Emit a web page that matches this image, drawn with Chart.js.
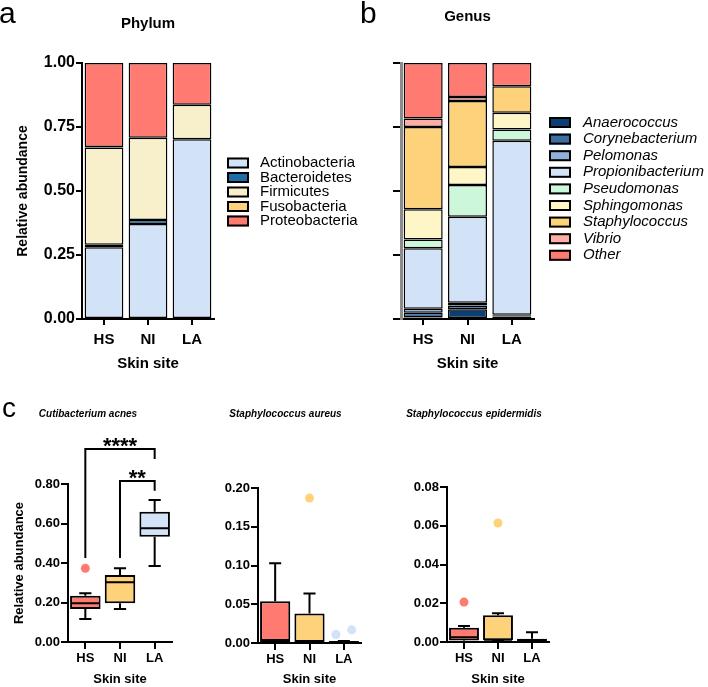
<!DOCTYPE html>
<html lang="en">
<head>
<meta charset="UTF-8">
<title>Skin site relative abundance</title>
<script src="https://cdn.jsdelivr.net/npm/chart.js"></script>
<style>
  body { margin: 0; background: #fff; }
  #figure { position: relative; width: 708px; height: 687px; overflow: hidden; font-family: 'Liberation Sans', Arial, sans-serif; }
  #figure canvas { position: absolute; }
  .panel-letter { position: absolute; font-size: 30px; line-height: 1; color: #000; }
</style>
</head>
<body>
<div id="figure">
  <canvas id="phylumChart" width="360" height="390" style="left:0;top:0"></canvas>
  <canvas id="genusChart" width="348" height="390" style="left:360px;top:0"></canvas>
  <canvas id="acnesChart" width="236" height="292" style="left:0;top:395px"></canvas>
  <canvas id="aureusChart" width="230" height="292" style="left:181px;top:395px"></canvas>
  <canvas id="epidermidisChart" width="228" height="292" style="left:380px;top:395px"></canvas>
  <div class="panel-letter" style="left:-1px;top:-2px">a</div>
  <div class="panel-letter" style="left:360px;top:-2px">b</div>
  <div class="panel-letter" style="left:2px;top:394px;font-size:28px">c</div>
</div>

<script>
// ---- data ----
const sites = ['HS', 'NI', 'LA'];

// phylum (panel a), values per site HS / NI / LA
const phylumNames = ['Actinobacteria', 'Bacteroidetes', 'Firmicutes', 'Fusobacteria', 'Proteobacteria'];
const actinobacteria = [0.280, 0.371, 0.702];
const bacteroidetes  = [0.010, 0.016, 0.000];
const firmicutes     = [0.380, 0.321, 0.135];
const fusobacteria   = [0.002, 0.000, 0.000];
const proteobacteria = [0.328, 0.292, 0.163];

// genus (panel b)
const genusNames = ['Anaerococcus', 'Corynebacterium', 'Pelomonas', 'Propionibacterium', 'Pseudomonas',
                    'Sphingomonas', 'Staphylococcus', 'Vibrio', 'Other'];
const anaerococcus      = [0.006, 0.038, 0.010];
const corynebacterium   = [0.018, 0.015, 0.005];
const pelomonas         = [0.016, 0.010, 0.002];
const propionibacterium = [0.236, 0.336, 0.679];
const pseudomonas       = [0.035, 0.124, 0.044];
const sphingomonas      = [0.118, 0.071, 0.066];
const staphylococcus    = [0.321, 0.258, 0.103];
const vibrio            = [0.033, 0.015, 0.000];
const otherGenus        = [0.217, 0.133, 0.091];

// box plots (panel c): [min, q1, median, q3, max] per site
const acnesStats = [[0.116, 0.167, 0.196, 0.234, 0.247],
                    [0.167, 0.196, 0.302, 0.339, 0.373],
                    [0.385, 0.533, 0.576, 0.660, 0.719]];
const aureusStats = [[0.000, 0.0005, 0.004, 0.054, 0.103],
                     [0.000, 0.000, 0.001, 0.038, 0.064],
                     [0.000, 0.000, 0.0008, 0.0025, 0.0025]];
const epidermidisStats = [[0.000, 0.0008, 0.0024, 0.0073, 0.0083],
                          [0.0003, 0.0009, 0.0012, 0.0138, 0.0148],
                          [0.000, 0.0003, 0.0008, 0.0017, 0.005]];

// outliers: site index, small horizontal jitter, value
const acnesOutSite = [0];        const acnesOutJitter = [0];              const acnesOutValue = [0.373];
const aureusOutSite = [1, 2, 2]; const aureusOutJitter = [0, -0.23, 0.23]; const aureusOutValue = [0.187, 0.011, 0.017];
const epiOutSite = [0, 1];       const epiOutJitter = [0, 0];             const epiOutValue = [0.0206, 0.0614];

// significance brackets for C. acnes
const acnesBrackets = [
  { from: 0, to: 2, top: 0.977, leftEnd: 0.425, rightEnd: 0.927, label: '****' },
  { from: 1, to: 2, top: 0.815, leftEnd: 0.425, rightEnd: 0.766, label: '**' }
];

// ---- colours ----
const phylumColors = ['#D2E3F7', '#1E6EA5', '#F8EFCB', '#FED27B', '#FF7B72'];
const genusColors = ['#0B3F73', '#3E6FA3', '#8FB1DA', '#D2E3F7', '#CDF7DA', '#FFF6C8', '#FED27B', '#FFACA4', '#FF7B72'];
const siteColors = ['#FF7B72', '#FED27B', '#D2E3F7'];

Chart.defaults.font.family = "'Liberation Sans', Arial, sans-serif";
Chart.defaults.color = '#000';

// legend drawn beside the plot, one row per dataset
const sideLegend = {
  id: 'sideLegend',
  afterDraw(chart, args, opts) {
    const ctx = chart.ctx;
    ctx.save();
    ctx.font = opts.font;
    ctx.textBaseline = 'middle';
    chart.data.datasets.forEach((ds, i) => {
      const y = opts.top + i * opts.rowHeight;
      const bx = opts.left, by = y - opts.boxHeight / 2;
      ctx.fillStyle = ds.backgroundColor;
      ctx.fillRect(bx, by, opts.boxWidth, opts.boxHeight);
      ctx.lineWidth = 2;
      ctx.strokeStyle = '#000';
      ctx.strokeRect(bx + 1, by + 1, opts.boxWidth - 2, opts.boxHeight - 2);
      ctx.fillStyle = '#000';
      ctx.fillText(ds.label, opts.textLeft, y);
    });
    ctx.restore();
  }
};

function stackedSet(label, data, color) {
  return {
    label, data,
    backgroundColor: color,
    borderColor: '#000',
    borderWidth: 1.5,
    borderSkipped: false,
    barPercentage: 0.88,
    categoryPercentage: 1
  };
}

function tickGrid(len) {
  return { display: true, drawOnChartArea: false, offset: false, drawTicks: true,
           tickLength: len, tickWidth: 2, tickColor: '#000', color: '#000', lineWidth: 2 };
}

// panel a
new Chart(document.getElementById('phylumChart'), {
  type: 'bar',
  data: {
    labels: sites,
    datasets: [actinobacteria, bacteroidetes, firmicutes, fusobacteria, proteobacteria]
      .map((d, i) => stackedSet(phylumNames[i], d, phylumColors[i]))
  },
  options: {
    responsive: false,
    animation: false,
    layout: { padding: { left: 8, right: 146, top: 0, bottom: 0 } },
    plugins: {
      legend: { display: false },
      tooltip: { enabled: false },
      title: { display: true, text: 'Phylum', fullSize: false, color: '#000',
               font: { size: 15, weight: 'bold' }, padding: { top: 15, bottom: 30 } },
      sideLegend: { left: 227, textLeft: 260, top: 163, rowHeight: 14.5, boxWidth: 22, boxHeight: 11,
                    font: "15px 'Liberation Sans', Arial, sans-serif" }
    },
    scales: {
      x: {
        stacked: true,
        grid: tickGrid(6),
        border: { color: '#000', width: 2 },
        ticks: { font: { size: 15, weight: 'bold' }, padding: 6 },
        title: { display: true, text: 'Skin site', font: { size: 15, weight: 'bold' }, padding: { top: 0, bottom: 17 } },
        afterFit(s) { s.height = 71; }
      },
      y: {
        stacked: true, min: 0, max: 1,
        grid: tickGrid(6),
        border: { color: '#000', width: 2 },
        ticks: { stepSize: 0.25, padding: 1, font: { size: 16, weight: 'bold' }, callback: v => v.toFixed(2) },
        title: { display: true, text: 'Relative abundance', font: { size: 14, weight: 'bold' }, padding: { top: 7, bottom: 0 } },
        afterFit(s) { s.width = 74; }
      }
    }
  },
  plugins: [sideLegend]
});

// panel b
new Chart(document.getElementById('genusChart'), {
  type: 'bar',
  data: {
    labels: sites,
    datasets: [anaerococcus, corynebacterium, pelomonas, propionibacterium, pseudomonas,
               sphingomonas, staphylococcus, vibrio, otherGenus]
      .map((d, i) => stackedSet(genusNames[i], d, genusColors[i]))
  },
  options: {
    responsive: false,
    animation: false,
    layout: { padding: { left: 33, right: 174, top: 0, bottom: 0 } },
    plugins: {
      legend: { display: false },
      tooltip: { enabled: false },
      title: { display: true, text: 'Genus', fullSize: false, color: '#000',
               font: { size: 15, weight: 'bold' }, padding: { top: 8, bottom: 37 } },
      sideLegend: { left: 189, textLeft: 223, top: 122.5, rowHeight: 16.6, boxWidth: 22, boxHeight: 11,
                    font: "italic 15px 'Liberation Sans', Arial, sans-serif" }
    },
    scales: {
      x: {
        stacked: true,
        grid: tickGrid(6),
        border: { color: '#000', width: 2 },
        ticks: { font: { size: 15, weight: 'bold' }, padding: 6 },
        title: { display: true, text: 'Skin site', font: { size: 15, weight: 'bold' }, padding: { top: 0, bottom: 17 } },
        afterFit(s) { s.height = 71; }
      },
      y: {
        stacked: true, min: 0, max: 1,
        grid: tickGrid(8),
        border: { color: '#8c8c8c', width: 3 },
        ticks: { stepSize: 0.25, display: false },
        afterFit(s) { s.width = 8; }
      }
    }
  },
  plugins: [sideLegend]
});

// ---- panel c helpers ----
function boxWhiskers(stats) {
  return {
    id: 'boxWhiskers',
    afterDatasetsDraw(chart) {
      const { ctx, scales: { y } } = chart;
      const bars = chart.getDatasetMeta(0).data;
      ctx.save();
      ctx.strokeStyle = '#000';
      ctx.lineWidth = 2;
      stats.forEach((s, i) => {
        const cx = bars[i].x;
        const half = bars[i].width / 2;
        const cap = bars[i].width * 0.2;
        ctx.beginPath();
        // upper whisker
        ctx.moveTo(cx, y.getPixelForValue(s[3]));
        ctx.lineTo(cx, y.getPixelForValue(s[4]));
        ctx.moveTo(cx - cap, y.getPixelForValue(s[4]));
        ctx.lineTo(cx + cap, y.getPixelForValue(s[4]));
        // lower whisker
        ctx.moveTo(cx, y.getPixelForValue(s[1]));
        ctx.lineTo(cx, y.getPixelForValue(s[0]));
        ctx.moveTo(cx - cap, y.getPixelForValue(s[0]));
        ctx.lineTo(cx + cap, y.getPixelForValue(s[0]));
        // median
        ctx.moveTo(cx - half + 1, y.getPixelForValue(s[2]));
        ctx.lineTo(cx + half - 1, y.getPixelForValue(s[2]));
        ctx.stroke();
      });
      ctx.restore();
    }
  };
}

function sigBrackets(brackets) {
  return {
    id: 'sigBrackets',
    afterDraw(chart) {
      const { ctx, scales: { x, y } } = chart;
      ctx.save();
      ctx.strokeStyle = '#000';
      ctx.fillStyle = '#000';
      ctx.lineWidth = 2;
      ctx.font = "bold 22px 'Liberation Sans', Arial, sans-serif";
      ctx.textAlign = 'center';
      ctx.textBaseline = 'alphabetic';
      brackets.forEach(b => {
        const x1 = x.getPixelForValue(b.from);
        const x2 = x.getPixelForValue(b.to);
        const yt = y.getPixelForValue(b.top);
        ctx.beginPath();
        ctx.moveTo(x1, y.getPixelForValue(b.leftEnd));
        ctx.lineTo(x1, yt);
        ctx.lineTo(x2, yt);
        ctx.lineTo(x2, y.getPixelForValue(b.rightEnd));
        ctx.stroke();
        ctx.fillText(b.label, (x1 + x2) / 2, yt + 4);
      });
      ctx.restore();
    }
  };
}

function boxChart(canvasId, cfg) {
  const outliers = cfg.outSite.map((s, i) => ({ x: s + cfg.outJitter[i], y: cfg.outValue[i] }));
  const scales = {
    x: {
      type: 'category',
      offset: true,
      grid: tickGrid(7),
      border: { color: '#000', width: 2 },
      ticks: { font: { size: 13, weight: 'bold' }, padding: 2 },
      title: { display: true, text: 'Skin site', font: { size: 13, weight: 'bold' }, padding: { top: 0, bottom: 0 } },
      afterFit(s) { s.height = cfg.xHeight; }
    },
    // hidden linear twin of the category axis, used to place jittered outliers
    xo: { type: 'linear', axis: 'x', display: false, offset: false, min: -0.5, max: 2.5 },
    y: {
      min: 0, max: cfg.yMax,
      grid: tickGrid(7),
      border: { color: '#000', width: 2 },
      ticks: { stepSize: cfg.yStep, padding: 1, font: { size: 13, weight: 'bold' }, callback: v => v.toFixed(2) },
      title: { display: cfg.yTitle, text: 'Relative abundance', font: { size: 13, weight: 'bold' }, padding: { top: 8, bottom: 0 } },
      afterFit(s) { s.width = cfg.yWidth; }
    }
  };
  return new Chart(document.getElementById(canvasId), {
    type: 'bar',
    data: {
      labels: sites,
      datasets: [
        {
          label: 'box',
          xAxisID: 'x',
          data: cfg.stats.map(s => [s[1], s[3]]),
          backgroundColor: siteColors,
          borderColor: '#000',
          borderWidth: 2,
          borderSkipped: false,
          grouped: false,
          barPercentage: 0.88,
          categoryPercentage: 1
        },
        {
          type: 'scatter',
          label: 'outliers',
          xAxisID: 'xo',
          data: outliers,
          pointRadius: 4.5,
          pointBorderWidth: 0,
          pointBackgroundColor: cfg.outSite.map(s => siteColors[s])
        }
      ]
    },
    options: {
      responsive: false,
      animation: false,
      layout: { padding: cfg.padding },
      plugins: {
        legend: { display: false },
        tooltip: { enabled: false },
        title: { display: true, text: cfg.title, color: '#000',
                 font: { size: 10, weight: 'bold', style: 'italic' }, padding: { top: 13, bottom: cfg.titleGap } }
      },
      scales
    },
    plugins: [boxWhiskers(cfg.stats)].concat(cfg.brackets ? [sigBrackets(cfg.brackets)] : [])
  });
}

boxChart('acnesChart', {
  title: 'Cutibacterium acnes', stats: acnesStats,
  outSite: acnesOutSite, outJitter: acnesOutJitter, outValue: acnesOutValue,
  yMax: 0.8, yStep: 0.2, yTitle: true, yWidth: 64, xHeight: 45, titleGap: 64,
  padding: { left: 4, right: 64, top: 0, bottom: 0 },
  brackets: acnesBrackets
});

boxChart('aureusChart', {
  title: 'Staphylococcus aureus', stats: aureusStats,
  outSite: aureusOutSite, outJitter: aureusOutJitter, outValue: aureusOutValue,
  yMax: 0.2, yStep: 0.05, yTitle: false, yWidth: 48, xHeight: 44, titleGap: 68,
  padding: { left: 29, right: 50, top: 0, bottom: 0 }
});

boxChart('epidermidisChart', {
  title: 'Staphylococcus epidermidis', stats: epidermidisStats,
  outSite: epiOutSite, outJitter: epiOutJitter, outValue: epiOutValue,
  yMax: 0.08, yStep: 0.02, yTitle: false, yWidth: 48, xHeight: 45, titleGap: 67,
  padding: { left: 19, right: 59, top: 0, bottom: 0 }
});
</script>
</body>
</html>
